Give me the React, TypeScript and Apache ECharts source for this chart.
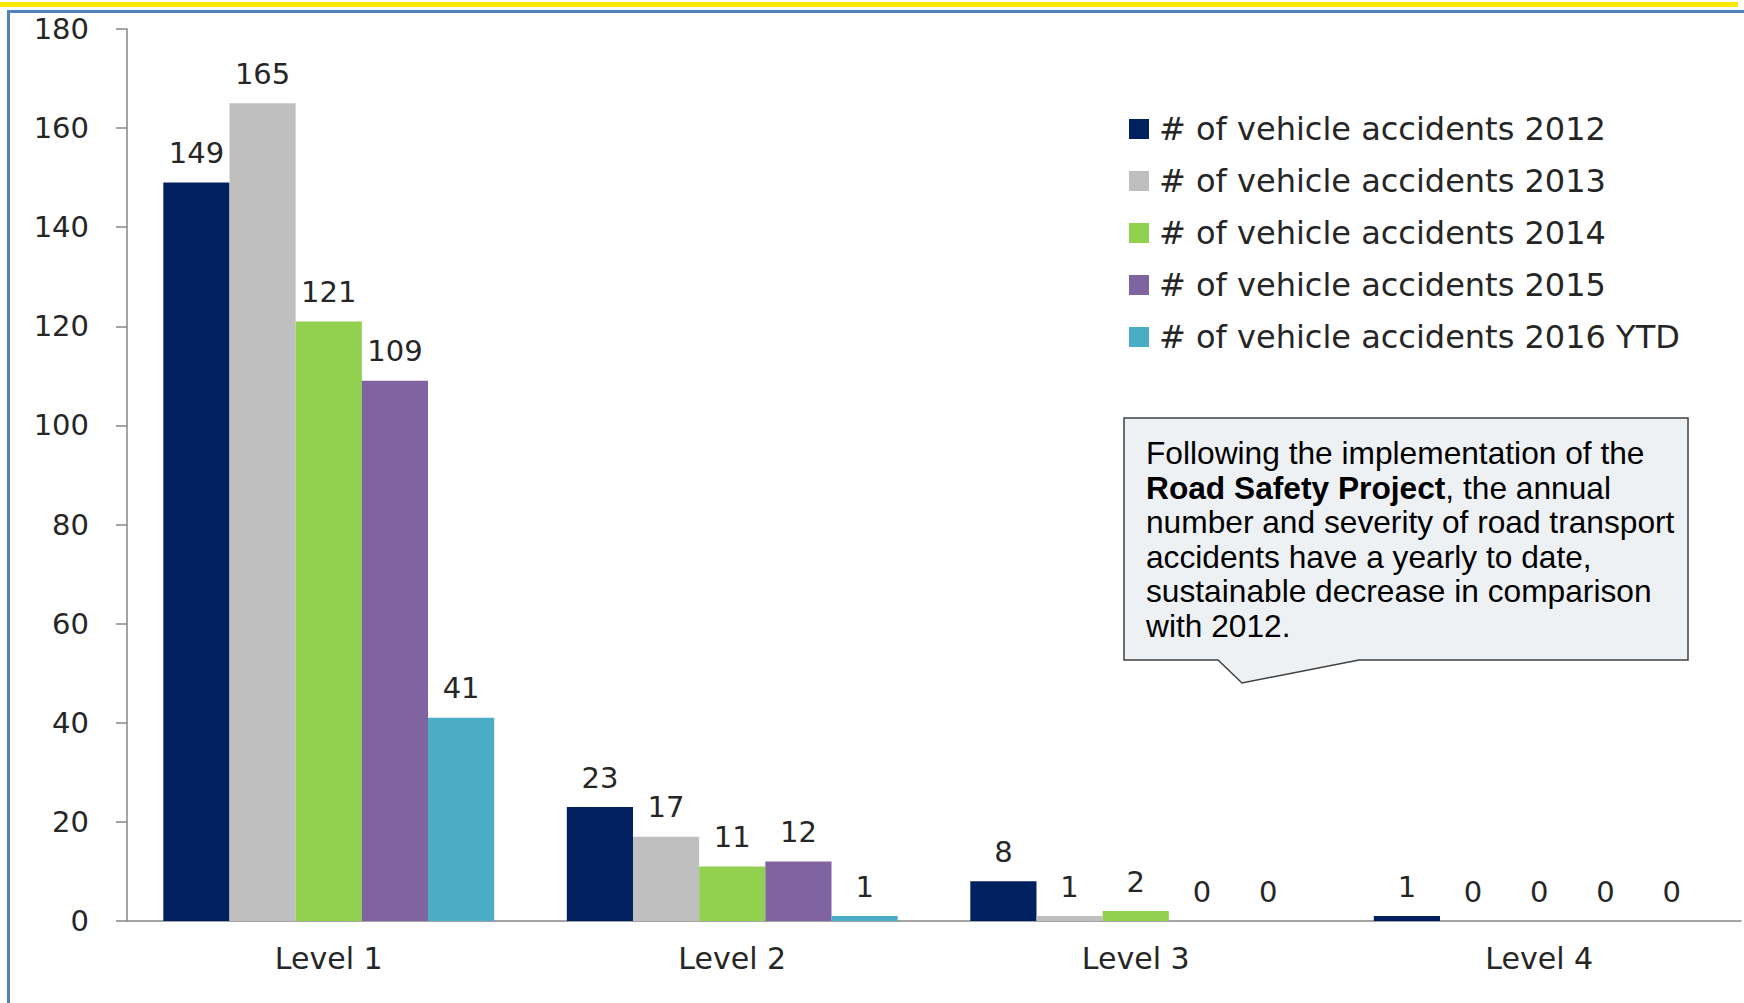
import React, { useEffect, useRef } from "react";
import * as echarts from "echarts";

const categories = ["Level 1", "Level 2", "Level 3", "Level 4"];
const seriesNames = [
  "# of vehicle accidents 2012",
  "# of vehicle accidents 2013",
  "# of vehicle accidents 2014",
  "# of vehicle accidents 2015",
  "# of vehicle accidents 2016 YTD",
];
const values2012 = [149, 23, 8, 1];
const values2013 = [165, 17, 1, 0];
const values2014 = [121, 11, 2, 0];
const values2015 = [109, 12, 0, 0];
const values2016 = [41, 1, 0, 0];
const seriesColors = ["#002060", "#BFBFBF", "#92D050", "#8064A2", "#4BACC6"];
const yMin = 0;
const yMax = 180;
const yInterval = 20;

const calloutText =
  "Following the implementation of the\n{b|Road Safety Project}, the annual\nnumber and severity of road transport\naccidents have a yearly to date,\nsustainable decrease in comparison\nwith 2012.";

export default function App() {
  const ref = useRef<HTMLDivElement>(null);
  useEffect(() => {
    if (!ref.current) return;
    const chart = echarts.init(ref.current, undefined, { renderer: "svg" });
    const allValues = [values2012, values2013, values2014, values2015, values2016];
    const textColor = "#262626";
    const font = "DejaVu Sans";
    chart.setOption({
      animation: false,
      backgroundColor: "#ffffff",
      grid: { left: 127, right: 3, top: 29, bottom: 82, containLabel: false },
      legend: {
        orient: "vertical",
        left: 1124,
        top: 108,
        itemWidth: 20,
        itemHeight: 20,
        itemGap: 20,
        icon: "rect",
        data: seriesNames,
        textStyle: {
          fontSize: 32,
          fontFamily: font,
          color: textColor,
          lineHeight: 32,
          padding: [0, 0, 0, 5],
        },
      },
      xAxis: {
        type: "category",
        data: categories,
        axisLine: { lineStyle: { color: "#868686", width: 1.5 } },
        axisTick: { length: 11, lineStyle: { color: "#868686", width: 1.5 } },
        axisLabel: { fontSize: 30, fontFamily: font, color: textColor, margin: 22 },
      },
      yAxis: {
        type: "value",
        min: yMin,
        max: yMax,
        interval: yInterval,
        splitLine: { show: false },
        axisLine: { show: true, lineStyle: { color: "#868686", width: 1.5 } },
        axisTick: { show: true, length: 11, lineStyle: { color: "#868686", width: 1.5 } },
        axisLabel: { fontSize: 29, fontFamily: font, color: textColor, margin: 38 },
      },
      series: allValues.map((vals, i) => ({
        name: seriesNames[i],
        type: "bar",
        data: vals,
        barGap: "0%",
        barCategoryGap: "18%",
        itemStyle: { color: seriesColors[i] },
        label: {
          show: true,
          position: "top",
          distance: 15,
          fontSize: 29,
          fontFamily: font,
          color: textColor,
        },
      })),
      graphic: [
        { type: "rect", shape: { x: 0, y: 2, width: 1738, height: 5 }, style: { fill: "#FFE800" } },
        { type: "rect", shape: { x: 7, y: 10, width: 1737, height: 3 }, style: { fill: "#4F81BD" } },
        { type: "rect", shape: { x: 7, y: 10, width: 3, height: 993 }, style: { fill: "#4F81BD" } },
        {
          type: "polygon",
          shape: {
            points: [
              [1124, 418],
              [1688, 418],
              [1688, 660],
              [1359, 660],
              [1242, 683],
              [1218, 660],
              [1124, 660],
            ],
          },
          style: { fill: "#EEF1F4", stroke: "#404040", lineWidth: 1.5 },
        },
        {
          type: "text",
          x: 1146,
          y: 436,
          style: {
            text: calloutText,
            fontFamily: "Liberation Sans",
            fontSize: 31.7,
            lineHeight: 34.5,
            fill: "#000000",
            verticalAlign: "top",
            rich: {
              b: {
                fontFamily: "Liberation Sans",
                fontSize: 31.7,
                fontWeight: "bold",
                lineHeight: 34.5,
                fill: "#000000",
              },
            },
          },
        },
      ],
    });
    return () => chart.dispose();
  }, []);
  return (
    <div
      ref={ref}
      style={{ position: "fixed", left: 0, top: 0, width: 1744, height: 1003 }}
    />
  );
}
